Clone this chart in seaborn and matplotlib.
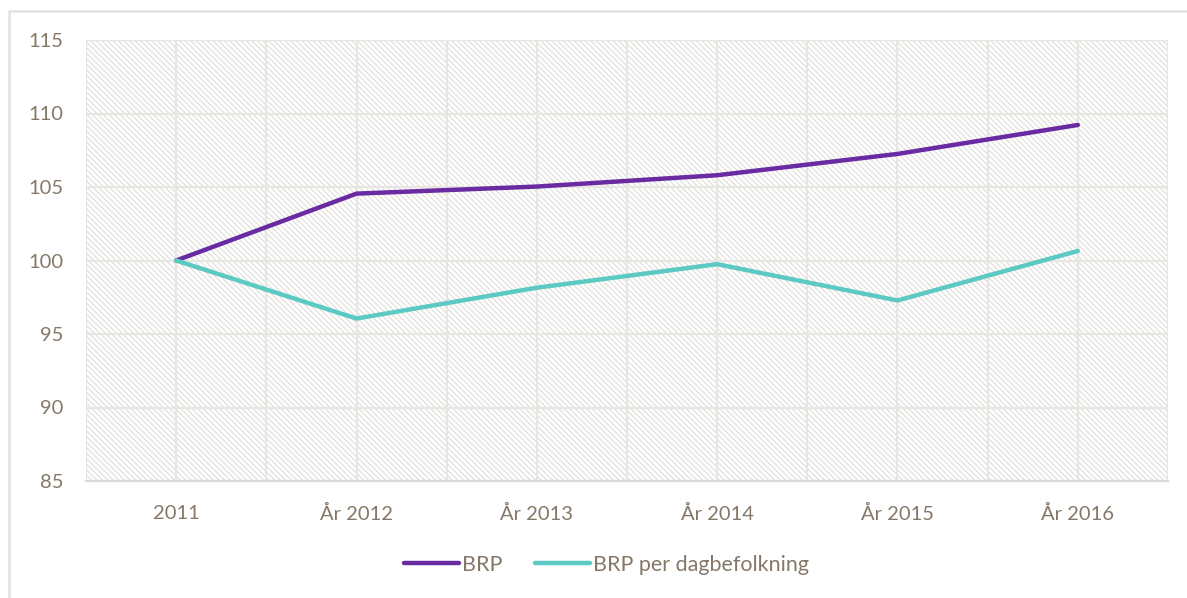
import matplotlib
matplotlib.use("Agg")
import matplotlib.pyplot as plt
import seaborn as sns
import pandas as pd
from matplotlib.patches import Rectangle
from matplotlib.lines import Line2D

years = ["2011", "År 2012", "År 2013", "År 2014", "År 2015", "År 2016"]
brp = [100.0, 104.55, 105.03, 105.8, 107.25, 109.22]
brp_dag = [100.0, 96.05, 98.15, 99.75, 97.28, 100.65]
series_names = ["BRP", "BRP per dagbefolkning"]
colors = ["#6A2AA2", "#5CCAC3"]
yticks = [85, 90, 95, 100, 105, 110, 115]

df = pd.DataFrame({
    "year": years * 2,
    "value": brp + brp_dag,
    "series": [series_names[0]] * len(years) + [series_names[1]] * len(years),
})

sns.set_theme(style="white")
plt.rcParams["font.family"] = ["Lato", "DejaVu Sans"]
plt.rcParams["hatch.linewidth"] = 0.9

text_color = "#857868"
grid_color = "#E8E6E3"

fig = plt.figure(figsize=(11.87, 5.98), dpi=100)
ax = fig.add_axes([86 / 1187, 1 - 481 / 598, (1168 - 86) / 1187, (481 - 40) / 598])

# outer border
fig.patches.append(Rectangle((9 / 1187, -0.1), 1.2, (598 - 11) / 598 + 0.1,
                             transform=fig.transFigure, fill=False,
                             edgecolor="#E3E0DD", linewidth=1.8, zorder=0))

# hatched plot-area background
ax.add_patch(Rectangle((0, 0), 1, 1, transform=ax.transAxes, facecolor="white",
                       edgecolor="#E2E0DD", hatch="\\" * 6, linewidth=0, zorder=0))

sns.lineplot(data=df, x="year", y="value", hue="series", palette=colors,
             linewidth=3.2, ax=ax, legend=False, sort=False)

ax.set_xlim(-0.5, len(years) - 0.5)
ax.set_ylim(85, 115)
ax.set_yticks(yticks)
ax.set_yticklabels([str(v) for v in yticks])
ax.set_xticks(range(len(years)))
ax.set_xticklabels(years)
ax.set_xticks([i + 0.5 for i in range(-1, len(years))], minor=True)

ax.grid(True, which="major", color=grid_color, linewidth=1.6, zorder=0.5)
ax.grid(True, which="minor", axis="x", color=grid_color, linewidth=1.6, zorder=0.5)
ax.set_axisbelow(True)
for s in ["top", "right", "left"]:
    ax.spines[s].set_visible(False)
ax.spines["bottom"].set_color("#DCD8D4")
ax.spines["bottom"].set_linewidth(1.6)

ax.tick_params(axis="both", which="both", length=0, labelsize=14.5, labelcolor=text_color)
ax.tick_params(axis="y", pad=16)
ax.tick_params(axis="x", pad=17)
ax.set_xlabel("")
ax.set_ylabel("")

handles = [Line2D([0], [0], color=c, linewidth=3.2, solid_capstyle="round") for c in colors]
leg = fig.legend(handles, series_names, loc="center",
                 bbox_to_anchor=(0.5 + 13 / 1187, 1 - 565 / 598),
                 ncol=2, frameon=False, fontsize=15.5, handlelength=2.55,
                 handletextpad=0.15, columnspacing=1.5)
for t in leg.get_texts():
    t.set_color(text_color)

fig.savefig("out.png", dpi=100)
